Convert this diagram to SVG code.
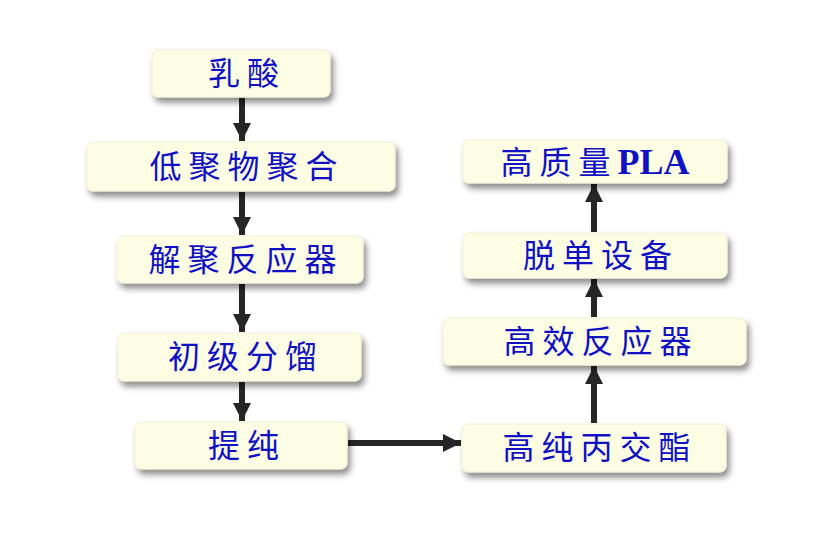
<svg xmlns="http://www.w3.org/2000/svg" width="834" height="550" viewBox="0 0 834 550">
<defs>
<filter id="sh" x="-10%" y="-30%" width="125%" height="170%">
<feDropShadow dx="3" dy="5" stdDeviation="3" flood-color="#000" flood-opacity="0.45"/>
</filter>
<marker id="ah" viewBox="0 0 10 10" refX="10" refY="5" markerWidth="3" markerHeight="3" orient="auto" markerUnits="strokeWidth">
<path d="M0,0 L10,5 L0,10 Z" fill="#262626"/>
</marker>
</defs>
<style>
.box{fill:#FDFDE4;stroke:#F2F2D8;stroke-width:1;filter:url(#sh)}
.t{font-family:"Noto Sans CJK SC","Noto Sans CJK JP",sans-serif;font-size:32px;font-weight:normal;fill:#1010C4;text-anchor:middle;letter-spacing:7px}
.lat{font-family:"Liberation Serif",serif;font-weight:bold;font-size:36px;letter-spacing:0}
.c{stroke:#262626;stroke-width:6;fill:none;marker-end:url(#ah)}
</style>
<rect width="834" height="550" fill="#fff"/>
<g id="connectors">
<line class="c" x1="242" y1="98" x2="242" y2="141"/>
<line class="c" x1="242" y1="192" x2="242" y2="235"/>
<line class="c" x1="242" y1="284" x2="242" y2="332"/>
<line class="c" x1="242" y1="382" x2="242" y2="421"/>
<line class="c" x1="348" y1="443" x2="461" y2="443"/>
<line class="c" x1="594" y1="423" x2="594" y2="366"/>
<line class="c" x1="594" y1="317" x2="594" y2="279"/>
<line class="c" x1="594" y1="232" x2="594" y2="184"/>
</g>
<g id="n1"><rect class="box" x="152" y="50" width="178" height="47" rx="6"/><text class="t" x="247" y="85">乳酸</text></g>
<g id="n2"><rect class="box" x="87" y="142" width="308" height="49" rx="6"/><text class="t" x="247" y="178">低聚物聚合</text></g>
<g id="n3"><rect class="box" x="117" y="236" width="246" height="47" rx="6"/><text class="t" x="246" y="271">解聚反应器</text></g>
<g id="n4"><rect class="box" x="118" y="333" width="243" height="48" rx="6"/><text class="t" x="246" y="368">初级分馏</text></g>
<g id="n5"><rect class="box" x="135" y="422" width="212" height="47" rx="6"/><text class="t" x="247" y="457">提纯</text></g>
<g id="n6"><rect class="box" x="462" y="424" width="264" height="48" rx="6"/><text class="t" x="600" y="459">高纯丙交酯</text></g>
<g id="n7"><rect class="box" x="443" y="318" width="303" height="47" rx="6"/><text class="t" x="601" y="353">高效反应器</text></g>
<g id="n8"><rect class="box" x="463" y="233" width="264" height="45" rx="6"/><text class="t" x="601" y="267">脱单设备</text></g>
<g id="n9"><rect class="box" x="463" y="140" width="264" height="43" rx="6"/><text class="t" x="595" y="174">高质量<tspan class="lat">PLA</tspan></text></g>
</svg>
